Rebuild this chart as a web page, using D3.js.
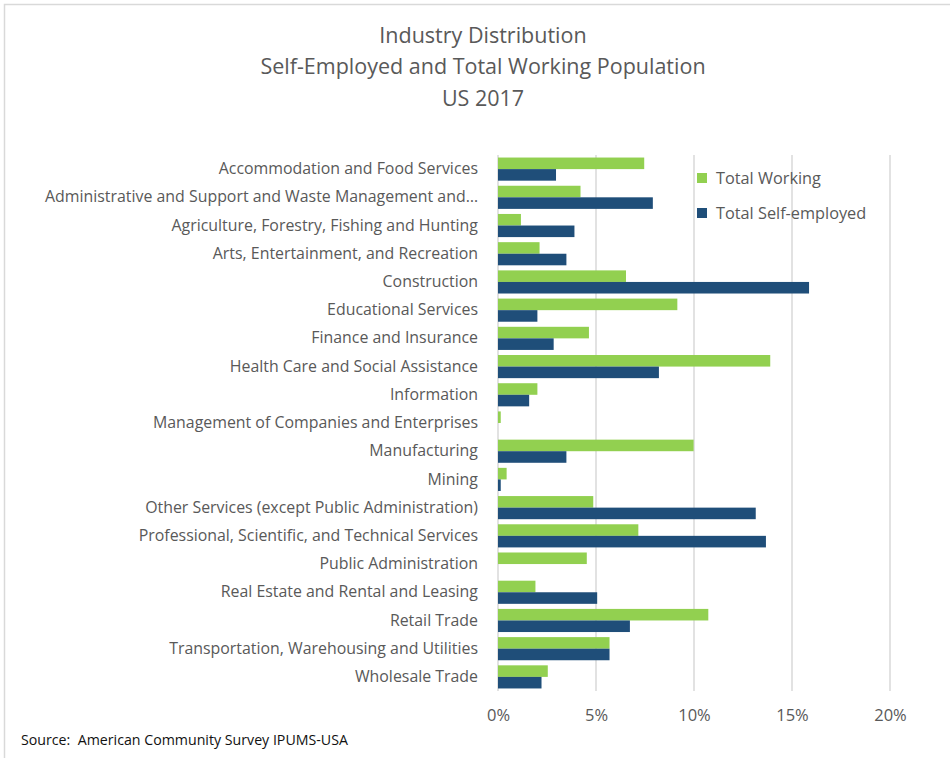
<!DOCTYPE html>
<html>
<head>
<meta charset="utf-8">
<title>Industry Distribution</title>
<script src="https://d3js.org/d3.v7.min.js"></script>
<style>
  body { margin: 0; background: #fff; }
  text { font-family: "Open Sans", "Liberation Sans", sans-serif; fill: #595959; }
</style>
</head>
<body>
<script>
// industries, top to bottom
var industries = [
  "Accommodation and Food Services",
  "Administrative and Support and Waste Management and\u2026",
  "Agriculture, Forestry, Fishing and Hunting",
  "Arts, Entertainment, and Recreation",
  "Construction",
  "Educational Services",
  "Finance and Insurance",
  "Health Care and Social Assistance",
  "Information",
  "Management of Companies and Enterprises",
  "Manufacturing",
  "Mining",
  "Other Services (except Public Administration)",
  "Professional, Scientific, and Technical Services",
  "Public Administration",
  "Real Estate and Rental and Leasing",
  "Retail Trade",
  "Transportation, Warehousing and Utilities",
  "Wholesale Trade"
];

// shares in percent
var totalWorking = [7.46, 4.21, 1.17, 2.12, 6.53, 9.15, 4.64, 13.89, 2.01, 0.14,
                    9.98, 0.44, 4.86, 7.16, 4.53, 1.91, 10.73, 5.69, 2.54];
var selfEmployed = [2.96, 7.90, 3.90, 3.49, 15.87, 2.01, 2.84, 8.21, 1.59, 0.0,
                    3.49, 0.14, 13.15, 13.67, 0.0, 5.06, 6.73, 5.69, 2.22];

var seriesNames = ["Total Working", "Total Self-employed"];
var xTicks = [0, 5, 10, 15, 20];
var titleLines = ["Industry Distribution", "Self-Employed and Total Working Population", "US 2017"];
var sourceText = "Source:  American Community Survey IPUMS-USA";

var colors = ["#92D050", "#1F4E79"];

var width = 950, height = 758;
var margin = {top: 155, right: 60, bottom: 67, left: 498};

var svg = d3.select("body").append("svg")
    .attr("width", width)
    .attr("height", height);

// chart border (only top and left show in the crop)
svg.append("rect")
    .attr("x", 4.5).attr("y", 4.5)
    .attr("width", width + 10).attr("height", height + 10)
    .attr("fill", "none")
    .attr("stroke", "#d9d9d9")
    .attr("stroke-width", 1.5);

// titles
svg.selectAll(".title")
    .data(titleLines)
    .enter().append("text")
    .attr("class", "title")
    .attr("x", 483)
    .attr("y", function(d, i) { return 42.5 + i * 31.5; })
    .attr("text-anchor", "middle")
    .style("font-size", "21.5px")
    .text(function(d) { return d; });

var x = d3.scaleLinear().domain([0, 20]).range([margin.left, 890]);
var y = d3.scaleBand().domain(industries).range([margin.top, 691]).paddingInner(0.18).paddingOuter(0.09);
var ySub = d3.scaleBand().domain([0, 1]).range([0, y.bandwidth()]);

// gridlines
svg.append("g")
    .selectAll("line")
    .data(xTicks)
    .enter().append("line")
    .attr("x1", function(d) { return x(d); })
    .attr("x2", function(d) { return x(d); })
    .attr("y1", margin.top)
    .attr("y2", 691)
    .attr("stroke", "#d9d9d9")
    .attr("stroke-width", 1.5);

// bars
var rows = industries.map(function(name, i) {
  return {name: name, values: [totalWorking[i], selfEmployed[i]]};
});

var groups = svg.append("g").selectAll("g")
    .data(rows)
    .enter().append("g")
    .attr("transform", function(d) { return "translate(0," + y(d.name) + ")"; });

groups.selectAll("rect")
    .data(function(d) { return d.values; })
    .enter().append("rect")
    .attr("x", x(0))
    .attr("y", function(d, i) { return ySub(i); })
    .attr("width", function(d) { return x(d) - x(0); })
    .attr("height", ySub.bandwidth())
    .attr("fill", function(d, i) { return colors[i]; });

// x axis labels
var xAxis = svg.append("g")
    .attr("transform", "translate(0,691)")
    .call(d3.axisBottom(x).tickValues(xTicks).tickSize(0).tickPadding(18)
      .tickFormat(function(d) { return d + "%"; }));
xAxis.select(".domain").remove();
xAxis.selectAll("text")
    .style("font-size", "16.5px")
    .style("font-family", "\"Open Sans\", sans-serif")
    .attr("fill", "#595959");

// y axis labels
var yAxis = svg.append("g")
    .attr("transform", "translate(" + margin.left + ",0)")
    .call(d3.axisLeft(y).tickSize(0).tickPadding(20));
yAxis.select(".domain").remove();
yAxis.selectAll("text")
    .style("font-size", "15.9px")
    .style("font-family", "\"Open Sans\", sans-serif")
    .attr("fill", "#595959");

// legend
var legend = svg.append("g").selectAll("g")
    .data(seriesNames)
    .enter().append("g")
    .attr("transform", function(d, i) { return "translate(702," + (178 + i * 35) + ")"; });
legend.append("rect")
    .attr("x", -5).attr("y", -5)
    .attr("width", 10).attr("height", 10)
    .attr("fill", function(d, i) { return colors[i]; });
legend.append("text")
    .attr("x", 14)
    .attr("dy", "0.36em")
    .style("font-size", "16.3px")
    .text(function(d) { return d; });

// source note
svg.append("text")
    .attr("x", 21)
    .attr("y", 745)
    .attr("xml:space", "preserve")
    .style("white-space", "pre")
    .style("font-size", "14.2px")
    .style("fill", "#111")
    .text(sourceText);
</script>
</body>
</html>
